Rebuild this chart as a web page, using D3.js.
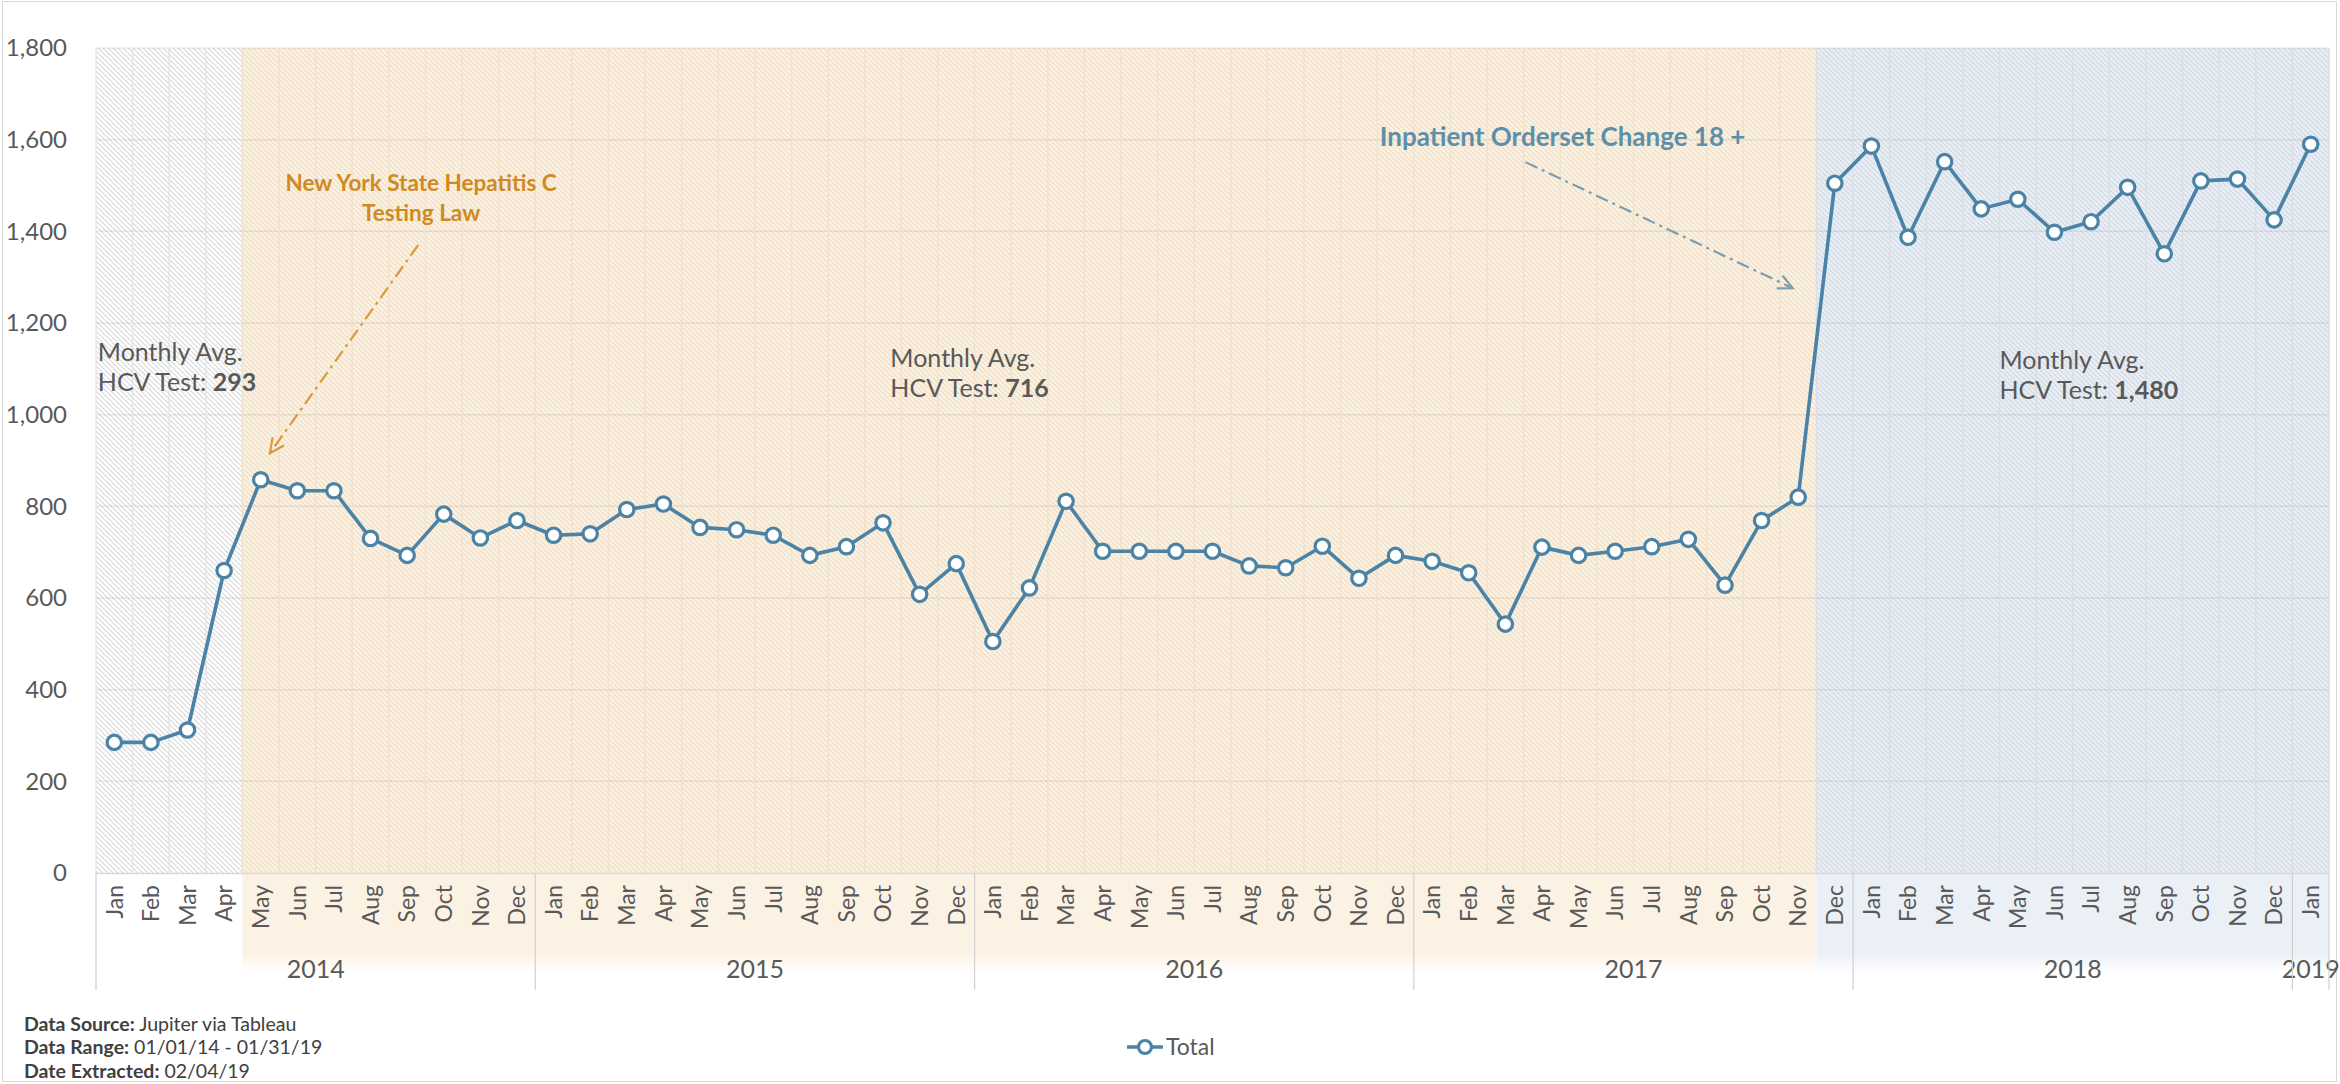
<!DOCTYPE html>
<html>
<head>
<meta charset="utf-8">
<script src="https://cdn.jsdelivr.net/npm/d3@7"></script>
<style>
  html, body { margin: 0; padding: 0; background: #ffffff; }
  svg { display: block; font-family: Lato, "Open Sans", sans-serif; }
</style>
</head>
<body>
<svg id="chart" width="2340" height="1084"></svg>
<script>
// ---------------- DATA ----------------
const monthNames = ["Jan","Feb","Mar","Apr","May","Jun","Jul","Aug","Sep","Oct","Nov","Dec"];
const years = ["2014","2015","2016","2017","2018","2019"];
const monthsPerYear = [12, 12, 12, 12, 12, 1];
const totalTests = [
  285, 285, 312, 660, 858, 834, 834, 730, 693, 783, 731, 769,
  737, 740, 793, 805, 754, 749, 737, 693, 712, 764, 608, 675,
  505, 622, 811, 702, 702, 702, 702, 670, 666, 713, 643, 693,
  680, 655, 543, 711, 693, 702, 712, 728, 628, 769, 820, 1505,
  1586, 1387, 1552, 1449, 1470, 1398, 1421, 1496, 1351, 1510, 1514, 1425,
  1590
];
const yTicks = [0, 200, 400, 600, 800, 1000, 1200, 1400, 1600, 1800];
// periods: first month index, last month index (inclusive)
const periodNames = ["pre-law", "law", "orderset"];
const periodStart = [0, 4, 47];
const periodEnd = [3, 46, 60];
const periodAvg = [293, 716, 1480];
const seriesName = ["Total"];
const footerBold = ["Data Source:", "Data Range:", "Date Extracted:"];
const footerText = [" Jupiter via Tableau", " 01/01/14 - 01/31/19", " 02/04/19"];

// build month categories
const categories = [];
years.forEach((yr, yi) => {
  for (let m = 0; m < monthsPerYear[yi]; m++) categories.push({ year: yr, month: monthNames[m], idx: categories.length });
});

// ---------------- LAYOUT ----------------
const svg = d3.select("#chart");
const L = 96, R = 2329, T = 48, B = 873;

const x = d3.scaleBand().domain(categories.map(d => d.idx)).range([L, R]).padding(0);
const xl = d3.scaleLinear().domain([0, categories.length]).range([L, R]); // continuous month position
const y = d3.scaleLinear().domain([0, 1800]).range([B, T]);
const bw = x.bandwidth();
const cx = i => x(i) + bw / 2;

const fills = ["#ffffff", "#fcf2e3", "#eaeff5"];
const hatch = ["#d8d8d8", "#eedcc2", "#cfd7e0"];
const grid = ["#e6e6e6", "#f0e2cd", "#d8dfe7"];
const under = ["#ffffff", "#fcf2e4", "#ebf0f6"];

const defs = svg.append("defs");
periodNames.forEach((p, i) => {
  const pat = defs.append("pattern").attr("id", "hatch" + i)
    .attr("patternUnits", "userSpaceOnUse").attr("width", 5).attr("height", 5);
  pat.append("rect").attr("width", 5).attr("height", 5).attr("fill", fills[i]);
  pat.append("path").attr("d", "M0,0 L5,5 M-1,4 L1,6 M4,-1 L6,1")
    .attr("stroke", hatch[i]).attr("stroke-width", 1.1).attr("fill", "none");
  const g = defs.append("linearGradient").attr("id", "fade" + i)
    .attr("x1", 0).attr("y1", 0).attr("x2", 0).attr("y2", 1);
  g.append("stop").attr("offset", "0%").attr("stop-color", under[i]);
  g.append("stop").attr("offset", "80%").attr("stop-color", under[i]);
  g.append("stop").attr("offset", "100%").attr("stop-color", "#ffffff");
});

// outer frame
svg.append("rect").attr("x", 2.5).attr("y", 1.5).attr("width", 2334).attr("height", 1080)
  .attr("fill", "#ffffff").attr("stroke", "#d9d9d9").attr("stroke-width", 1);

// period backgrounds (plot area hatched, axis area plain)
periodNames.forEach((p, i) => {
  const x0 = x(periodStart[i]), x1 = x(periodEnd[i]) + bw;
  svg.append("rect").attr("x", x0).attr("y", T).attr("width", x1 - x0).attr("height", B - T)
    .attr("fill", "url(#hatch" + i + ")");
  svg.append("rect").attr("x", x0).attr("y", B).attr("width", x1 - x0).attr("height", 100)
    .attr("fill", "url(#fade" + i + ")");
});

// gridlines
const periodOf = i => periodStart.findIndex((s, k) => i >= s && i <= periodEnd[k]);
const gGrid = svg.append("g");
yTicks.forEach(t => {
  if (t === 0) return;
  gGrid.append("line").attr("x1", L).attr("x2", R).attr("y1", y(t)).attr("y2", y(t))
    .attr("stroke", "rgba(120,120,120,0.15)").attr("stroke-width", 1.5);
});
categories.forEach(c => {
  gGrid.append("line").attr("x1", x(c.idx)).attr("x2", x(c.idx)).attr("y1", T).attr("y2", B)
    .attr("stroke", grid[periodOf(c.idx)]).attr("stroke-width", 1.5);
});
gGrid.append("line").attr("x1", R).attr("x2", R).attr("y1", T).attr("y2", B)
  .attr("stroke", grid[2]).attr("stroke-width", 1.5);

// x axis baseline
svg.append("line").attr("x1", L).attr("x2", R).attr("y1", B + 0.5).attr("y2", B + 0.5)
  .attr("stroke", "#d9d9d9").attr("stroke-width", 1.5);

// y axis labels
const yAxis = d3.axisLeft(y).tickValues(yTicks).tickFormat(d3.format(",")).tickSize(0).tickPadding(0);
const gy = svg.append("g").attr("transform", `translate(67,0)`).call(yAxis);
gy.select(".domain").remove();
gy.selectAll("text").attr("font-size", 24).attr("fill", "#595959").attr("font-family", "Lato, sans-serif");

// month labels
svg.append("g").selectAll("text").data(categories).join("text")
  .attr("transform", d => `translate(${cx(d.idx)},${B + 12}) rotate(-90)`)
  .attr("text-anchor", "end").attr("dy", "0.36em")
  .attr("font-size", 23).attr("fill", "#595959")
  .text(d => d.month);

// year labels and separators
let start = 0;
const yearInfo = years.map((yr, yi) => { const s = start; start += monthsPerYear[yi]; return { yr, s, e: start }; });
yearInfo.forEach(d => {
  svg.append("text").attr("x", (xl(d.s) + xl(d.e)) / 2).attr("y", 969).attr("dy", "0.35em")
    .attr("text-anchor", "middle").attr("font-size", 25).attr("fill", "#595959").text(d.yr);
  svg.append("line").attr("x1", xl(d.s)).attr("x2", xl(d.s)).attr("y1", B).attr("y2", 990)
    .attr("stroke", "#d0d0d0").attr("stroke-width", 1.2);
});
svg.append("line").attr("x1", R).attr("x2", R).attr("y1", B).attr("y2", 990)
  .attr("stroke", "#d0d0d0").attr("stroke-width", 1.2);

// ---------------- ANNOTATIONS ----------------
function arrow(x1, y1, x2, y2, color) {
  const g = svg.append("g");
  g.append("line").attr("x1", x1).attr("y1", y1).attr("x2", x2).attr("y2", y2)
    .attr("stroke", color).attr("stroke-width", 2.2).attr("stroke-dasharray", "13,5,3,5");
  const a = Math.atan2(y2 - y1, x2 - x1), len = 16, sp = 0.45;
  const p1 = [x2 - len * Math.cos(a - sp), y2 - len * Math.sin(a - sp)];
  const p2 = [x2 - len * Math.cos(a + sp), y2 - len * Math.sin(a + sp)];
  g.append("path").attr("d", `M${p1[0]},${p1[1]} L${x2},${y2} L${p2[0]},${p2[1]}`)
    .attr("fill", "none").attr("stroke", color).attr("stroke-width", 2.2);
}
arrow(xl(8.8), y(1370), xl(4.75), y(916), "#d89a3c");
arrow(xl(39.05), y(1551), xl(46.35), y(1276), "#7c9db0");

const orange = "#cf8a22";
svg.append("text").attr("x", xl(8.88)).attr("y", 183).attr("dy", "0.35em").attr("text-anchor", "middle")
  .attr("font-size", 22.5).attr("font-weight", 700).attr("fill", orange).text("New York State Hepatitis C");
svg.append("text").attr("x", xl(8.88)).attr("y", 213).attr("dy", "0.35em").attr("text-anchor", "middle")
  .attr("font-size", 22.5).attr("font-weight", 700).attr("fill", orange).text("Testing Law");

svg.append("text").attr("x", xl(35.07)).attr("y", 137).attr("dy", "0.35em")
  .attr("font-size", 26).attr("font-weight", 700).attr("fill", "#5e8fa9").text("Inpatient Orderset Change 18 +");

const avgPos = [[0.05, 352], [21.7, 358], [52.0, 360]];
periodNames.forEach((p, i) => {
  const t = svg.append("g").attr("font-size", 25).attr("fill", "#595959");
  t.append("text").attr("x", xl(avgPos[i][0])).attr("y", avgPos[i][1]).attr("dy", "0.35em").text("Monthly Avg.");
  const t2 = t.append("text").attr("x", xl(avgPos[i][0])).attr("y", avgPos[i][1] + 30).attr("dy", "0.35em");
  t2.append("tspan").text("HCV Test: ");
  t2.append("tspan").attr("font-weight", 700).text(d3.format(",")(periodAvg[i]));
});

// ---------------- SERIES ----------------
const lineColor = "#4a83a5";
const line = d3.line().x((d, i) => cx(i)).y(d => y(d));
svg.append("path").datum(totalTests).attr("d", line)
  .attr("fill", "none").attr("stroke", lineColor).attr("stroke-width", 3.6).attr("stroke-linejoin", "round");
svg.append("g").selectAll("circle").data(totalTests).join("circle")
  .attr("cx", (d, i) => cx(i)).attr("cy", d => y(d)).attr("r", 7.2)
  .attr("fill", "#ffffff").attr("stroke", lineColor).attr("stroke-width", 3.2);

// ---------------- LEGEND ----------------
const lg = svg.append("g").attr("transform", "translate(1127,1047)");
lg.append("line").attr("x1", 0).attr("x2", 36).attr("y1", 0).attr("y2", 0).attr("stroke", lineColor).attr("stroke-width", 3.6);
lg.append("circle").attr("cx", 18).attr("cy", 0).attr("r", 6.5).attr("fill", "#fff").attr("stroke", lineColor).attr("stroke-width", 3.2);
lg.append("text").attr("x", 39).attr("y", 0).attr("dy", "0.35em").attr("font-size", 23).attr("fill", "#595959").text(seriesName[0]);

// ---------------- FOOTER ----------------
footerBold.forEach((b, i) => {
  const t = svg.append("text").attr("x", 24).attr("y", 1024 + i * 23.5).attr("dy", "0.35em")
    .attr("font-size", 19.5).attr("fill", "#404040");
  t.append("tspan").attr("font-weight", 700).text(b);
  t.append("tspan").text(footerText[i]);
});
</script>
</body>
</html>
